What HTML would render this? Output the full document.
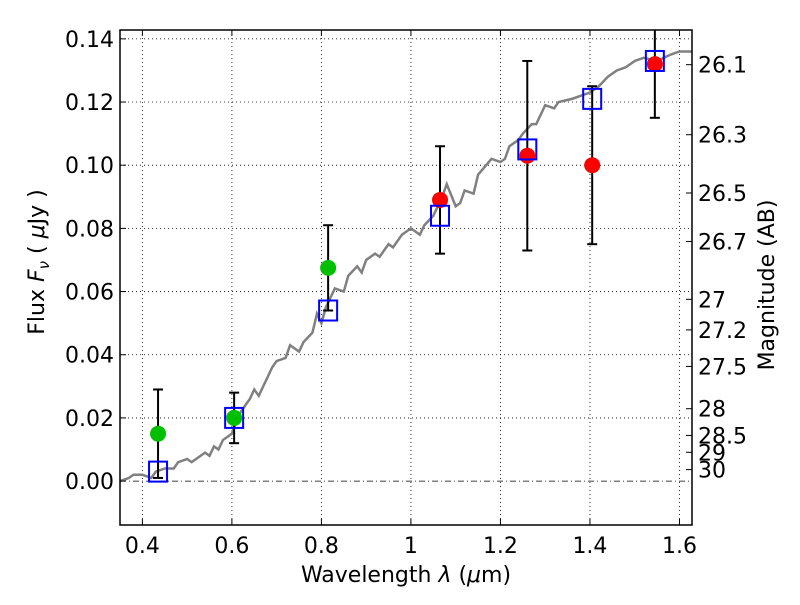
<!DOCTYPE html>
<html><head><meta charset="utf-8"><style>
body{margin:0;background:#fff}
svg{font-family:"DejaVu Sans","Liberation Sans",sans-serif}
</style></head><body>
<svg id="chart" width="800" height="600" viewBox="0 0 800 600" xmlns="http://www.w3.org/2000/svg">
<defs><clipPath id="clip"><rect x="120" y="30" width="572" height="495"/></clipPath></defs>
<rect width="800" height="600" fill="#fff"/>
<g id="grid"></g><g id="marks" clip-path="url(#clip)"></g><g id="axes"></g>
</svg>
<script>
const specX=[0.35,0.37,0.38,0.40,0.42,0.43,0.45,0.47,0.48,0.50,0.51,0.52,0.54,0.55,0.56,0.57,0.58,0.60,0.61,0.62,0.64,0.65,0.66,0.68,0.69,0.70,0.72,0.73,0.75,0.76,0.78,0.79,0.80,0.81,0.82,0.83,0.85,0.86,0.88,0.89,0.90,0.92,0.93,0.95,0.96,0.98,1.00,1.02,1.03,1.05,1.07,1.08,1.10,1.11,1.12,1.14,1.15,1.18,1.20,1.21,1.22,1.24,1.25,1.27,1.28,1.30,1.32,1.33,1.36,1.38,1.40,1.42,1.44,1.46,1.48,1.50,1.52,1.55,1.58,1.60,1.628];
const specY=[0.000,0.001,0.002,0.002,0.001,0.003,0.004,0.004,0.006,0.007,0.006,0.007,0.009,0.008,0.011,0.010,0.013,0.015,0.019,0.022,0.026,0.029,0.027,0.033,0.036,0.038,0.039,0.043,0.041,0.044,0.047,0.053,0.050,0.055,0.058,0.061,0.060,0.065,0.068,0.066,0.070,0.072,0.071,0.075,0.074,0.078,0.080,0.078,0.081,0.084,0.090,0.094,0.087,0.088,0.092,0.091,0.097,0.102,0.101,0.102,0.106,0.108,0.110,0.113,0.113,0.119,0.118,0.120,0.121,0.122,0.123,0.125,0.128,0.130,0.131,0.133,0.134,0.133,0.135,0.136,0.136];
const modelX=[0.435,0.605,0.815,1.065,1.26,1.405,1.545];
const modelY=[0.003,0.020,0.054,0.084,0.105,0.121,0.133];
const greenX=[0.435,0.605,0.815];
const greenY=[0.015,0.020,0.0675];
const greenLo=[0.001,0.012,0.054];
const greenHi=[0.029,0.028,0.081];
const redX=[1.065,1.26,1.405,1.545];
const redY=[0.089,0.103,0.100,0.132];
const redLo=[0.072,0.073,0.075,0.115];
const redHi=[0.106,0.133,0.125,0.150];
const xTicks=[0.4,0.6,0.8,1.0,1.2,1.4,1.6];
const xTickLabels=["0.4","0.6","0.8","1","1.2","1.4","1.6"];
const yTicks=[0,0.02,0.04,0.06,0.08,0.10,0.12,0.14];
const yTickLabels=["0.00","0.02","0.04","0.06","0.08","0.10","0.12","0.14"];
const magTicks=[26.1,26.3,26.5,26.7,27,27.2,27.5,28,28.5,29,30];
const magLabels=["26.1","26.3","26.5","26.7","27","27.2","27.5","28","28.5","29","30"];

const L=120,R=692,T=30,B=525,X0=0.35,X1=1.628,Y0=-0.0139,Y1=0.1428;
const sx=v=>L+(v-X0)/(X1-X0)*(R-L);
const sy=v=>B-(v-Y0)/(Y1-Y0)*(B-T);
const NS="http://www.w3.org/2000/svg";
function mk(p,tag,attrs,txt){const e=document.createElementNS(NS,tag);for(const k in attrs)e.setAttribute(k,attrs[k]);if(txt!==undefined)e.textContent=txt;p.appendChild(e);return e;}
const grid=document.getElementById('grid'),marks=document.getElementById('marks'),axes=document.getElementById('axes');

xTicks.forEach(v=>{const g=mk(grid,'line',{x1:sx(v),x2:sx(v),y1:T,y2:B,stroke:'#000','stroke-width':0.8,'stroke-dasharray':'1,3'});

});
yTicks.forEach(v=>{const g=mk(grid,'line',{x1:L,x2:R,y1:sy(v),y2:sy(v),stroke:'#000','stroke-width':0.8,'stroke-dasharray':v===0?'6,3,1,3':'1,3'});

});

const spec=mk(marks,'polyline',{points:specX.map((x,i)=>sx(x)+','+sy(specY[i])).join(' '),fill:'none',stroke:'#808080','stroke-width':2.5});



function errbar(x,lo,hi){const g=mk(marks,'g',{stroke:'#000','stroke-width':2});


mk(g,'line',{x1:sx(x),x2:sx(x),y1:sy(lo),y2:sy(hi)});
mk(g,'line',{x1:sx(x)-5,x2:sx(x)+5,y1:sy(lo),y2:sy(lo)});
mk(g,'line',{x1:sx(x)-5,x2:sx(x)+5,y1:sy(hi),y2:sy(hi)});}
greenX.forEach((x,i)=>errbar(x,greenLo[i],greenHi[i]));
redX.forEach((x,i)=>errbar(x,redLo[i],redHi[i]));

greenX.forEach((x,i)=>{const c=mk(marks,'circle',{cx:sx(x),cy:sy(greenY[i]),r:8,fill:'#00bf00'});

});
redX.forEach((x,i)=>{const c=mk(marks,'circle',{cx:sx(x),cy:sy(redY[i]),r:8,fill:'#ff0000'});

});
modelX.forEach((x,i)=>{const s=mk(marks,'rect',{x:sx(x)-9,y:sy(modelY[i])-10,width:18,height:20,fill:'none',stroke:'#0000ff','stroke-width':2});

});

const frame=mk(axes,'rect',{x:L,y:T,width:R-L,height:B-T,fill:'none',stroke:'#000','stroke-width':1.5});


xTicks.forEach((v,i)=>{mk(axes,'line',{x1:sx(v),x2:sx(v),y1:B,y2:B-6,stroke:'#000'});mk(axes,'line',{x1:sx(v),x2:sx(v),y1:T,y2:T+6,stroke:'#000'});
const t=mk(axes,'text',{x:sx(v),y:B+28,'text-anchor':'middle','font-size':22},xTickLabels[i]);

});
yTicks.forEach((v,i)=>{mk(axes,'line',{x1:L,x2:L+6,y1:sy(v),y2:sy(v),stroke:'#000'});
const t=mk(axes,'text',{x:L-6,y:sy(v)+8,'text-anchor':'end','font-size':22},yTickLabels[i]);

});
magTicks.forEach((m,i)=>{const f=Math.pow(10,(23.9-m)/2.5);const y=sy(f);
mk(axes,'line',{x1:R,x2:R-6,y1:y,y2:y,stroke:'#000'});
const t=mk(axes,'text',{x:R+6,y:y+8,'font-size':22},magLabels[i]);

});
</script>
<svg style="position:absolute;left:0;top:0" width="800" height="600">
<text x="406" y="582" text-anchor="middle" font-size="22" font-family="DejaVu Sans,Liberation Sans,sans-serif">Wavelength  <tspan font-style="italic">λ</tspan> (<tspan font-style="italic">μ</tspan>m)</text>
<text transform="translate(44,262) rotate(-90)" text-anchor="middle" font-size="22" font-family="DejaVu Sans,Liberation Sans,sans-serif">Flux  <tspan font-style="italic">F</tspan><tspan font-style="italic" font-size="15" dy="5">ν</tspan><tspan dy="-5">  ( </tspan><tspan font-style="italic">μ</tspan>Jy )</text>
<text transform="translate(774,285) rotate(-90)" text-anchor="middle" font-size="22" font-family="DejaVu Sans,Liberation Sans,sans-serif">Magnitude (AB)</text>
</svg>
</body></html>
